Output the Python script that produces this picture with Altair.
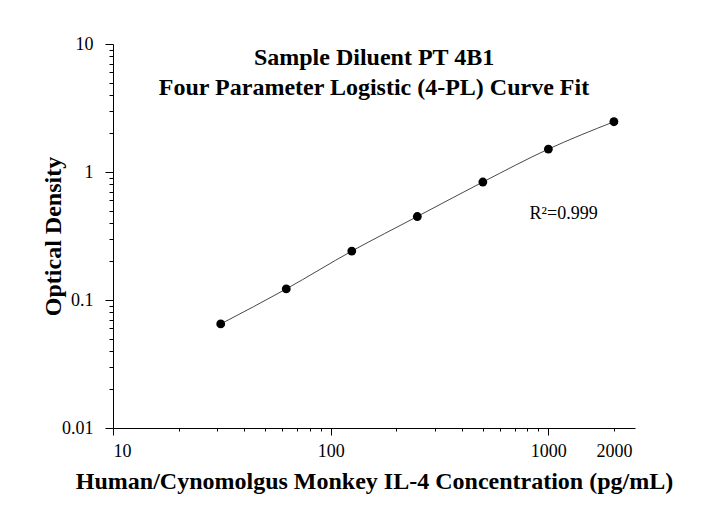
import altair as alt
import pandas as pd

# Data
concentration = [31.25, 62.5, 125, 250, 500, 1000, 2000]
optical_density = [0.065, 0.122, 0.241, 0.449, 0.835, 1.51, 2.47]

x_major = [10, 100, 1000]
x_minor = [20, 30, 40, 50, 60, 70, 80, 90, 200, 300, 400, 500, 600, 700, 800, 900, 2000]
y_major = [0.01, 0.1, 1, 10]
y_minor = [0.02, 0.03, 0.04, 0.05, 0.06, 0.07, 0.08, 0.09,
           0.2, 0.3, 0.4, 0.5, 0.6, 0.7, 0.8, 0.9,
           2, 3, 4, 5, 6, 7, 8, 9]

title_lines = ["Sample Diluent PT 4B1",
               "\u00a0\u00a0\u00a0\u00a0Four Parameter Logistic (4-PL) Curve Fit"]
x_title = "Human/Cynomolgus Monkey IL-4 Concentration (pg/mL)"
y_title = "Optical Density"
r2_label = ["R\u00b2=0.999"]
r2_x = [820]
r2_y = [0.47]

FONT = "Liberation Serif"

df = pd.DataFrame({"conc": concentration, "od": optical_density})
ann = pd.DataFrame({"x": r2_x, "y": r2_y, "t": r2_label})

xscale = alt.Scale(type="log", domain=[10, 2500], nice=False)
yscale = alt.Scale(type="log", domain=[0.01, 10], nice=False)

line = alt.Chart(df).mark_line(color="#333333", strokeWidth=0.9, interpolate="monotone").encode(
    x=alt.X("conc:Q", scale=xscale, axis=alt.Axis(
        orient="bottom", values=x_major, format="d", tickSize=7, labelPadding=7,
        labelFont=FONT, labelFontSize=18, labelColor="black", tickColor="black",
        domainColor="black", grid=False, title=x_title, titleFont=FONT,
        titleFontSize=24, titleFontWeight="bold", titleColor="black",
        titleBaseline="alphabetic", titleY=60)),
    y=alt.Y("od:Q", scale=yscale, axis=alt.Axis(
        orient="left", values=y_major, labelExpr="format(datum.value, '')", tickSize=8,
        labelPadding=12, labelFont=FONT, labelFontSize=18, labelColor="black",
        tickColor="black", domainColor="black", grid=False, title=y_title,
        titleFont=FONT, titleFontSize=24, titleFontWeight="bold", titleColor="black",
        titleX=-48, titleY=192)),
)

points = alt.Chart(df).mark_circle(color="black", size=78, opacity=1).encode(
    x=alt.X("conc:Q", scale=xscale, axis=alt.Axis(
        orient="bottom", values=x_minor, tickSize=3, labelPadding=11,
        labelExpr="datum.value == 2000 ? '2000' : ''", labelFont=FONT, labelFontSize=18,
        labelColor="black", tickColor="black", domain=False, grid=False, title=None)),
    y=alt.Y("od:Q", scale=yscale, axis=alt.Axis(
        orient="left", values=y_minor, tickSize=4, labels=False, tickColor="black",
        domain=False, grid=False, title=None)),
)

text = alt.Chart(ann).mark_text(font=FONT, fontSize=18, align="left", baseline="middle",
                                color="black").encode(
    x=alt.X("x:Q", scale=xscale, axis=None),
    y=alt.Y("y:Q", scale=yscale, axis=None),
    text="t:N",
)

chart = alt.layer(line, points, text).resolve_axis(
    x="independent", y="independent"
).properties(
    width=522, height=384,
    padding={"left": 113, "top": 44, "right": 82, "bottom": 80},
    autosize=alt.AutoSizeParams(type="none"),
    title=alt.TitleParams(text=title_lines, font=FONT, fontSize=24, fontWeight="bold",
                          color="black", anchor="middle", offset=-65, lineHeight=30),
    background="white",
).configure_view(stroke=None)

chart.save("out.html", embed_options={"renderer": "svg", "actions": False})
